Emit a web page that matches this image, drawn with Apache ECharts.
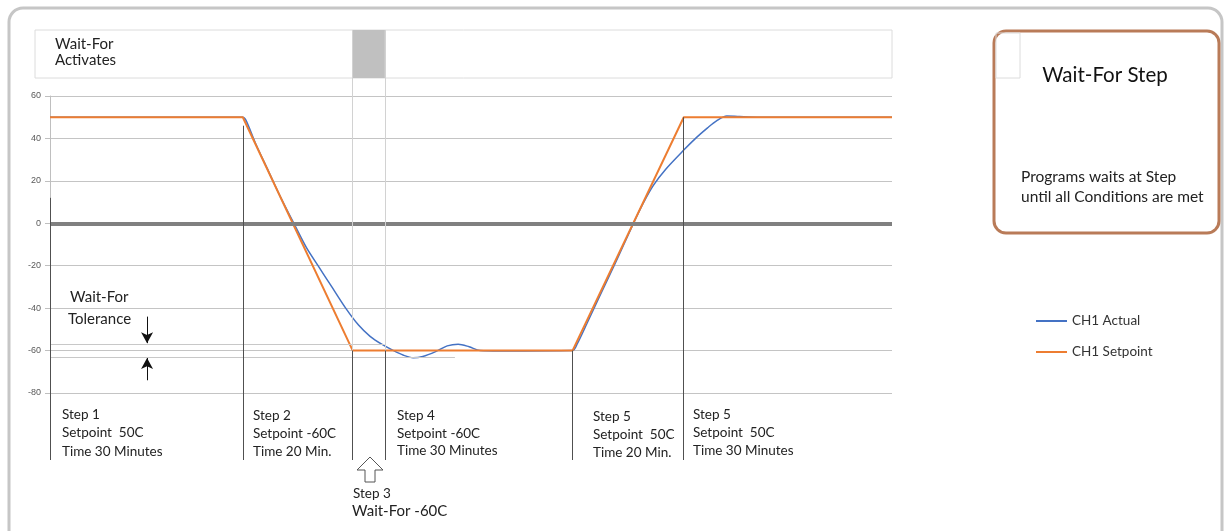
<!DOCTYPE html>
<html>
<head>
<meta charset="utf-8">
<script src="https://cdn.jsdelivr.net/npm/echarts@6/dist/echarts.min.js"></script>
<style>
html,body{margin:0;padding:0;background:#fff;}
#c{width:1231px;height:531px;}
</style>
</head>
<body>
<div id="c"></div>
<script>
// ---- data (time in minutes-like units, temperature in C) ----
const yTicks = [-80, -60, -40, -20, 0, 20, 40, 60];
const setpointT = [0, 30, 47.1, 81.3, 98.6, 131];
const setpointV = [50, 50, -60, -60, 50, 50];
const actualT = [0, 30, 30.5, 32, 34, 36, 38.1, 39.9, 41.7, 43.85, 46.0, 48.0, 49.8, 51.6, 53.3, 55, 56.5, 58, 60, 61.8, 63.5, 65.2, 66.9, 70, 81.3, 82, 83.5, 85.5, 88, 90.7, 92.3, 93.9, 95.8, 98.6, 100.6, 102.3, 103.7, 105.3, 107.3, 110.4, 131];
const actualV = [50, 50, 48.5, 37.5, 24.5, 11.5, -1, -11.5, -20, -30, -40, -48, -53.3, -57, -59.8, -62.2, -63.4, -62.8, -60.5, -57.8, -57, -58.2, -60, -60.2, -60, -57, -47.5, -34.5, -18.5, -0.5, 9.5, 18, 25.5, 34.5, 40.5, 45, 48.3, 50.6, 50.3, 50, 50];
const stepBounds = [0, 30, 47.1, 52.1, 81.3, 98.6];      // step start times
const stepLineTop = [12, 46, -60, -60, -60, 50];          // where each dark divider starts (C)
const waitStart = 47.1, waitEnd = 52.1;                   // Step 3 wait-for window
const tolerance = [-57, -63];                             // wait-for tolerance band
const toleranceEnd = [52, 63];
const tMax = 131;

const zip = (a, b) => a.map((v, i) => [v, b[i]]);
const FONT = 'Lato, "Open Sans", sans-serif';
const DARK = '#505050', LIGHT = '#d2d2d2';

const chart = echarts.init(document.getElementById('c'), null, {renderer: 'canvas'});

const mainLines = [];
// zero line
mainLines.push([{coord: [0, 0], lineStyle: {color: '#808080', width: 4}}, {coord: [tMax, 0]}]);
// tolerance lines
tolerance.forEach((v, i) => mainLines.push([{coord: [0, v], lineStyle: {color: '#c8c8c8', width: 1}}, {coord: [toleranceEnd[i], v]}]));
// light lines of wait window
[waitStart, waitEnd].forEach(t => mainLines.push([{coord: [t, 60], lineStyle: {color: LIGHT, width: 1}}, {coord: [t, -60]}]));
// dark step dividers
stepBounds.forEach((t, i) => mainLines.push([{coord: [t, stepLineTop[i]], lineStyle: {color: DARK, width: 1}}, {coord: [t, -80]}]));

const arrowLines = [
  [{coord: [15.1, -44]}, {coord: [15.1, -56.5]}],
  [{coord: [15.1, -74]}, {coord: [15.1, -63.5]}]
];

const option = {
  animation: false,
  backgroundColor: '#fff',
  grid: [
    {left: 50, top: 96, width: 842, height: 297},
    {left: 50, top: 393, width: 842, height: 67},
    {left: 50, top: 30, width: 842, height: 66}
  ],
  xAxis: [
    {gridIndex: 0, type: 'value', min: 0, max: tMax, show: false},
    {gridIndex: 1, type: 'value', min: 0, max: tMax, show: false},
    {gridIndex: 2, type: 'value', min: 0, max: tMax, show: false}
  ],
  yAxis: [
    {gridIndex: 0, type: 'value', min: -80, max: 60, interval: 20,
     axisLine: {show: true, lineStyle: {color: '#bfbfbf'}},
     axisTick: {show: true, length: 5, lineStyle: {color: '#bfbfbf'}},
     axisLabel: {color: '#595959', fontSize: 9, fontFamily: 'Liberation Sans, Arial, sans-serif', margin: 9,
                 formatter: v => yTicks.includes(v) ? String(v) : ''},
     splitLine: {show: true, lineStyle: {color: '#c4c4c4', width: 1}}},
    {gridIndex: 1, type: 'value', min: 0, max: 1, show: false},
    {gridIndex: 2, type: 'value', min: 0, max: 66, inverse: true, show: false}
  ],
  legend: {
    orient: 'vertical', left: 1031, top: 309, itemWidth: 31, itemHeight: 2, itemGap: 17,
    icon: 'rect',
    textStyle: {fontFamily: FONT, fontSize: 13.5, color: '#333'},
    data: ['CH1 Actual', 'CH1 Setpoint']
  },
  series: [
    {type: 'line', xAxisIndex: 0, yAxisIndex: 0, data: [], silent: true,
     markLine: {silent: true, symbol: ['none', 'none'], label: {show: false}, lineStyle: {type: 'solid'}, data: mainLines}},
    {type: 'line', xAxisIndex: 0, yAxisIndex: 0, data: [], silent: true,
     markLine: {silent: true, symbol: ['none', 'arrow'], symbolSize: [9, 11], label: {show: false},
                lineStyle: {type: 'solid', color: '#111', width: 1}, data: arrowLines}},
    {name: 'CH1 Actual', type: 'line', xAxisIndex: 0, yAxisIndex: 0, data: zip(actualT, actualV),
     smooth: 0.3, showSymbol: false, symbol: 'none', lineStyle: {color: '#4472c4', width: 1.5}, itemStyle: {color: '#4472c4'}, z: 3},
    {name: 'CH1 Setpoint', type: 'line', xAxisIndex: 0, yAxisIndex: 0, data: zip(setpointT, setpointV),
     showSymbol: false, symbol: 'none', lineStyle: {color: '#ed7d31', width: 2}, itemStyle: {color: '#ed7d31'}, z: 4},
    {type: 'line', xAxisIndex: 1, yAxisIndex: 1, data: [], silent: true,
     markLine: {silent: true, symbol: ['none', 'none'], label: {show: false}, lineStyle: {type: 'solid', color: DARK, width: 1},
                data: stepBounds.map(t => [{coord: [t, 1]}, {coord: [t, 0]}])}},
    {type: 'line', xAxisIndex: 2, yAxisIndex: 2, data: [], silent: true,
     markArea: {silent: true, itemStyle: {color: '#c0c0c0'}, data: [[{coord: [waitStart, 0]}, {coord: [waitEnd, 48]}]]},
     markLine: {silent: true, symbol: ['none', 'none'], label: {show: false}, lineStyle: {type: 'solid', color: LIGHT, width: 1},
                data: [waitStart, waitEnd].map(t => [{coord: [t, 0]}, {coord: [t, 66]}])}}
  ],
  graphic: [
    {type: 'rect', shape: {x: 9, y: 8, width: 1213, height: 580, r: 14}, style: {fill: 'none', stroke: '#c6c6c6', lineWidth: 3}, z: -1},
    {type: 'rect', shape: {x: 35, y: 30, width: 857, height: 48}, style: {fill: 'none', stroke: '#dcdcdc', lineWidth: 1}, z: -1},
    {type: 'text', style: {text: 'Wait-For\nActivates', x: 55, y: 36, font: '15px ' + FONT, fill: '#222', lineHeight: 16}},
    {type: 'text', style: {text: 'Wait-For', x: 70, y: 290, font: '15px ' + FONT, fill: '#222'}},
    {type: 'text', style: {text: 'Tolerance', x: 68, y: 312, font: '15px ' + FONT, fill: '#222'}},
    {type: 'text', style: {text: 'Step 1\nSetpoint  50C\nTime 30 Minutes', x: 62, y: 405, font: '13.5px ' + FONT, fill: '#222', lineHeight: 18.5}},
    {type: 'text', style: {text: 'Step 2\nSetpoint -60C\nTime 20 Min.', x: 253, y: 407, font: '13.5px ' + FONT, fill: '#222', lineHeight: 18}},
    {type: 'text', style: {text: 'Step 4\nSetpoint -60C\nTime 30 Minutes', x: 397, y: 407, font: '13.5px ' + FONT, fill: '#222', lineHeight: 17.5}},
    {type: 'text', style: {text: 'Step 5\nSetpoint  50C\nTime 20 Min.', x: 593, y: 408, font: '13.5px ' + FONT, fill: '#222', lineHeight: 18}},
    {type: 'text', style: {text: 'Step 5\nSetpoint  50C\nTime 30 Minutes', x: 693, y: 406, font: '13.5px ' + FONT, fill: '#222', lineHeight: 18}},
    {type: 'text', style: {text: 'Step 3', x: 353, y: 487, font: '13.5px ' + FONT, fill: '#222'}},
    {type: 'text', style: {text: 'Wait-For -60C', x: 352, y: 504, font: '15px ' + FONT, fill: '#222'}},
    {type: 'polygon', shape: {points: [[370, 457], [383, 470], [375, 470], [375, 482], [365, 482], [365, 470], [357, 470]]},
     style: {fill: '#fff', stroke: '#555', lineWidth: 1}},
    {type: 'rect', shape: {x: 994, y: 31, width: 225, height: 202, r: 12}, style: {fill: '#fff', stroke: '#b97b58', lineWidth: 3}},
    {type: 'rect', shape: {x: 996, y: 33, width: 24, height: 45}, style: {fill: 'none', stroke: '#dcdcdc', lineWidth: 1}},
    {type: 'text', style: {text: 'Wait-For Step', x: 1105, y: 65, font: '20.5px ' + FONT, fill: '#111', align: 'center', textAlign: 'center'}},
    {type: 'text', style: {text: 'Programs waits at Step\nuntil all Conditions are met', x: 1021, y: 167, font: '15.5px ' + FONT, fill: '#222', lineHeight: 20}}
  ]
};
chart.setOption(option);
</script>
</body>
</html>
